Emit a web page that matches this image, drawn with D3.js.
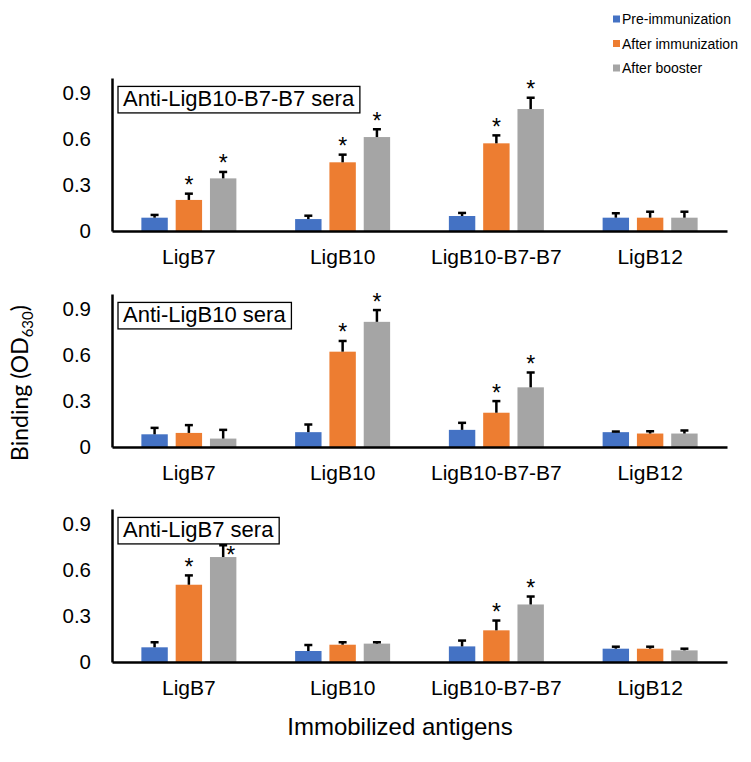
<!DOCTYPE html>
<html>
<head>
  <meta charset="utf-8">
  <title>Binding of sera to immobilized antigens</title>
  <style>
  body { margin: 0; background: #fff; }
  svg { display: block; font-family: Arial, "Liberation Sans", sans-serif; }
  .axis path { stroke: #000; stroke-width: 2.5px; }
  .axis text { fill: #000; }
  .err line { stroke: #000; stroke-width: 2.5px; }
  .box rect { fill: #fff; stroke: #000; stroke-width: 1.3px; }
  </style>
</head>
<body>
  <div id="chart"></div>
  <script src="https://cdn.jsdelivr.net/npm/d3@7"></script>
  <script>
  // data
  var categories = ["LigB7", "LigB10", "LigB10-B7-B7", "LigB12"];
  var seriesNames = ["Pre-immunization", "After immunization", "After booster"];
  var seriesColors = ["#4472C4", "#ED7D31", "#A5A5A5"];
  var panelTitles = ["Anti-LigB10-B7-B7 sera", "Anti-LigB10 sera", "Anti-LigB7 sera"];
  var yTicks = [0, 0.3, 0.6, 0.9];

  // means per category (rows) and series (columns)
  var means1 = [[0.087, 0.203, 0.344], [0.078, 0.449, 0.614], [0.098, 0.573, 0.797], [0.087, 0.087, 0.087]];
  var errs1  = [[0.018, 0.041, 0.042], [0.022, 0.050, 0.051], [0.020, 0.052, 0.074], [0.029, 0.039, 0.039]];
  var stars1 = [[0, 1, 1], [0, 1, 1], [0, 1, 1], [0, 0, 0]];

  var means2 = [[0.083, 0.092, 0.055], [0.097, 0.623, 0.818], [0.112, 0.224, 0.390], [0.097, 0.088, 0.088]];
  var errs2  = [[0.042, 0.051, 0.057], [0.050, 0.070, 0.077], [0.046, 0.076, 0.097], [0.004, 0.015, 0.020]];
  var stars2 = [[0, 0, 0], [0, 1, 1], [0, 1, 1], [0, 0, 0]];

  var means3 = [[0.096, 0.505, 0.686], [0.072, 0.113, 0.120], [0.102, 0.207, 0.376], [0.087, 0.087, 0.076]];
  var errs3  = [[0.033, 0.061, 0.077], [0.039, 0.016, 0.009], [0.038, 0.064, 0.052], [0.013, 0.013, 0.011]];
  var stars3 = [[0, 1, 1], [0, 0, 0], [0, 1, 1], [0, 0, 0]];

  var panels = [
    {title: panelTitles[0], means: means1, errs: errs1, stars: stars1},
    {title: panelTitles[1], means: means2, errs: errs2, stars: stars2},
    {title: panelTitles[2], means: means3, errs: errs3, stars: stars3}
  ];

  var width = 751, height = 762;
  var left = 112, right = 727;
  var panelH = 153;
  var baselines = [231, 447, 662];

  var svg = d3.select("#chart").append("svg")
    .attr("width", width)
    .attr("height", height);

  var x = d3.scaleBand().domain(categories).range([left, right]);
  var xs = d3.scaleBand().domain(d3.range(seriesNames.length)).range([-47.5, 47.5]).paddingInner(0.23);

  panels.forEach(function(p, pi) {
    var base = baselines[pi];
    var y = d3.scaleLinear().domain([0, 1]).range([base, base - panelH]);
    var g = svg.append("g");

    // flatten the panel into one row per bar
    var rows = [];
    categories.forEach(function(c, ci) {
      seriesNames.forEach(function(s, si) {
        rows.push({cat: c, si: si, v: p.means[ci][si], e: p.errs[ci][si], star: p.stars[ci][si]});
      });
    });
    var cx = function(d) { return x(d.cat) + x.bandwidth() / 2 + xs(d.si) + xs.bandwidth() / 2; };

    g.selectAll(".bar").data(rows).enter().append("rect")
      .attr("class", "bar")
      .attr("x", function(d) { return x(d.cat) + x.bandwidth() / 2 + xs(d.si); })
      .attr("width", xs.bandwidth())
      .attr("y", function(d) { return y(d.v); })
      .attr("height", function(d) { return base - y(d.v); })
      .attr("fill", function(d) { return seriesColors[d.si]; });

    // upper error bars
    var eg = g.selectAll(".err").data(rows).enter().append("g").attr("class", "err");
    eg.append("line")
      .attr("x1", cx).attr("x2", cx)
      .attr("y1", function(d) { return y(d.v); })
      .attr("y2", function(d) { return y(d.v + d.e); });
    eg.append("line")
      .attr("x1", function(d) { return cx(d) - 4; })
      .attr("x2", function(d) { return cx(d) + 4; })
      .attr("y1", function(d) { return y(d.v + d.e); })
      .attr("y2", function(d) { return y(d.v + d.e); });

    // y axis
    g.append("g")
      .attr("class", "axis")
      .attr("transform", "translate(" + left + ",0)")
      .call(d3.axisLeft(y).tickValues(yTicks).tickSize(0).tickPadding(21)
        .tickFormat(function(d) { return d === 0 ? "0" : d3.format(".1f")(d); }))
      .call(function(a) { a.selectAll("text").attr("font-size", 20.5).attr("font-family", null); });

    // x axis
    g.append("g")
      .attr("class", "axis")
      .attr("transform", "translate(0," + base + ")")
      .call(d3.axisBottom(x).tickSize(0).tickPadding(18))
      .call(function(a) { a.selectAll("text").attr("font-size", 21).attr("font-family", null); });

    // panel title box
    var box = g.append("g").attr("class", "box");
    var rect = box.append("rect");
    var t = box.append("text")
      .attr("x", left + 11)
      .attr("y", y(0.945) + 20)
      .attr("font-size", 22)
      .text(p.title);
    var bb = t.node().getBBox();
    var bx0 = left + 6, by0 = y(0.945), bx1 = bb.x + bb.width + 5, by1 = by0 + 26.5;
    rect.attr("x", bx0).attr("y", by0).attr("width", bx1 - bx0).attr("height", by1 - by0);

    // significance stars; move beside the bar when they would hit the title box
    rows.filter(function(d) { return d.star; }).forEach(function(d) {
      var top = y(d.v + d.e);
      var sx = cx(d), sy = top - 0.5, anchor = "middle";
      if (sx < bx1 + 4 && sy - 19 < by1) {
        sx = cx(d) + 3; sy = top + 18; anchor = "start";
      }
      g.append("text")
        .attr("x", sx).attr("y", sy)
        .attr("text-anchor", anchor)
        .attr("font-size", 23)
        .text("*");
    });
  });

  // legend
  var legend = svg.append("g");
  seriesNames.forEach(function(s, i) {
    var ly = 19 + i * 24.5;
    legend.append("rect")
      .attr("x", 613).attr("y", ly - 3.5)
      .attr("width", 7).attr("height", 7)
      .attr("fill", seriesColors[i]);
    legend.append("text")
      .attr("x", 622).attr("y", ly + 5)
      .attr("font-size", 14)
      .text(s);
  });

  // axis titles
  svg.append("text")
    .attr("x", 400).attr("y", 735)
    .attr("text-anchor", "middle")
    .attr("font-size", 24)
    .text("Immobilized antigens");

  var yt = svg.append("text")
    .attr("transform", "translate(28,383) rotate(-90)")
    .attr("text-anchor", "middle")
    .attr("font-size", 23)
    .attr("font-family", "Lato, 'Open Sans', sans-serif");
  yt.append("tspan").text("Binding (OD");
  yt.append("tspan").attr("font-size", 15).attr("dy", 5).text("630");
  yt.append("tspan").attr("dy", -5).text(")");
  </script>
</body>
</html>
